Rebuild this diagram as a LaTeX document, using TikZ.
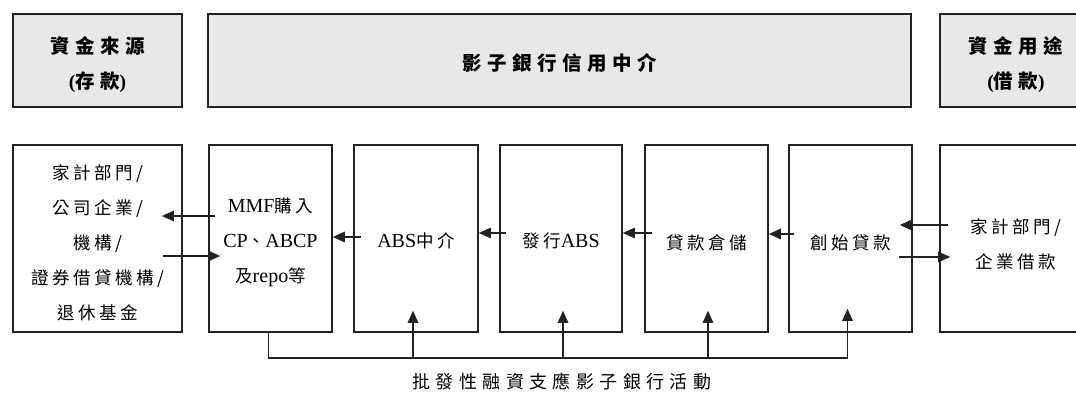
\documentclass[tikz,border=0pt]{standalone}
\usepackage{fontspec}
\setmainfont{Liberation Serif}
\newfontfamily\cjk[Scale=0.875,LetterSpace=20]{Noto Sans CJK TC}
\newfontfamily\cjkw[Scale=1.0,LetterSpace=28]{Noto Sans CJK TC}
\newfontfamily\cjkl[Scale=1.0,LetterSpace=30]{Noto Sans CJK TC}
\newcommand\zh[1]{{\cjk #1}}
\newcommand\zw[1]{{\cjkw #1}}
\newcommand\zl[1]{{\cjkl #1}}
\usetikzlibrary{arrows.meta,calc}
\definecolor{hdrfill}{HTML}{E8E8E8}
\definecolor{ink}{HTML}{222222}
\begin{document}
\begin{tikzpicture}[x=1pt,y=-1pt,
  hdr/.style={draw=ink,line width=2.4pt,fill=hdrfill,inner sep=0pt,minimum height=93pt},
  hdrtxt/.style={inner sep=0pt,align=center,font=\fontsize{19.5}{35}\selectfont\bfseries},
  stage/.style={draw=ink,line width=1.6pt,fill=white,inner sep=0pt,minimum height=187pt},
  stagetxt/.style={inner sep=0pt,align=center,font=\fontsize{20}{35}\selectfont},
  arr/.style={draw=ink,line width=1.4pt,-{Triangle[length=12pt,width=10.5pt]}}]
\useasboundingbox (0,0) rectangle (1076,396);
% header boxes
\node[hdr,minimum width=169pt] (src) at (97.5,60.5) {};
\node[hdr,minimum width=703pt] (mid) at (559.5,60.5) {};
\node[hdr,minimum width=152pt] (use) at (1016,60.5) {};
\node[hdrtxt] (srct) at ([yshift=-4.5pt]src.center) {\zw{資金來源}\\(\zw{存款})};
\node[hdrtxt] (midt) at ([yshift=-2.5pt]mid.center) {\zw{影子銀行信用中介}};
\node[hdrtxt] (uset) at ([yshift=-4.5pt]use.center) {\zw{資金用途}\\(\zw{借款})};
% stage boxes
\node[stage,minimum width=169pt] (A) at (97.5,238.5) {};
\node[stage,minimum width=123pt] (B) at (270.5,238.5) {};
\node[stage,minimum width=124pt] (C) at (416,238.5) {};
\node[stage,minimum width=122pt] (D) at (561,238.5) {};
\node[stage,minimum width=123pt] (E) at (706.5,238.5) {};
\node[stage,minimum width=123pt] (F) at (850.5,238.5) {};
\node[stage,minimum width=152pt] (G) at (1016,238.5) {};
\node[stagetxt] (At) at ([yshift=-4pt]A.center) {\zh{家計部門/}\\\zh{公司企業/}\\\zh{機構/}\\\zh{證券借貸機構/}\\\zh{退休基金}};
\node[stagetxt] (Bt) at ([yshift=-3.5pt]B.center) {MMF\zh{購入}\\CP\zh{、}ABCP\\\zh{及}repo\zh{等}};
\node[stagetxt] (Ct) at ([yshift=-2pt]C.center) {ABS\zh{中介}};
\node[stagetxt] (Dt) at ([yshift=-2pt]D.center) {\zh{發行}ABS};
\node[stagetxt] (Et) at ([yshift=-4pt]E.center) {\zh{貸款倉儲}};
\node[stagetxt] (Ft) at ([yshift=-4pt]F.center) {\zh{創始貸款}};
\node[stagetxt] (Gt) at ([yshift=-6pt]G.center) {\zh{家計部門/}\\\zh{企業借款}};
% flows
\draw[arr] ([xshift=7pt,yshift=22.5pt]B.west) -- ([xshift=-21pt,yshift=22.5pt]A.east);
\draw[arr] ([xshift=-20pt,yshift=-17.5pt]A.east) -- ([xshift=12pt,yshift=-17.5pt]B.west);
\draw[arr] ([xshift=8pt,yshift=1.5pt]C.west) -- ([yshift=1.5pt]B.east);
\draw[arr] ([xshift=7pt,yshift=5.5pt]D.west) -- ([yshift=5.5pt]C.east);
\draw[arr] ([xshift=8pt,yshift=5.5pt]E.west) -- ([yshift=5.5pt]D.east);
\draw[arr] ([xshift=6pt,yshift=4.5pt]F.west) -- ([yshift=4.5pt]E.east);
\draw[arr] ([xshift=9pt,yshift=13.5pt]G.west) -- ([xshift=-13pt,yshift=13.5pt]F.east);
\draw[arr] ([xshift=-14pt,yshift=-18.5pt]F.east) -- ([xshift=11pt,yshift=-18.5pt]G.west);
% wholesale funding bracket
\coordinate (bar) at (0,358);
\draw[arr] ([xshift=-2pt]B.south) -- ([xshift=-2pt]B.south |- bar) -- ([xshift=-3pt]F.south |- bar) -- ([xshift=-3pt,yshift=24pt]F.south);
\draw[arr] ([xshift=-3pt]C.south |- bar) -- ([xshift=-3pt,yshift=22pt]C.south);
\draw[arr] ([xshift=2pt]D.south |- bar) -- ([xshift=2pt,yshift=22pt]D.south);
\draw[arr] ([xshift=1.5pt]E.south |- bar) -- ([xshift=1.5pt,yshift=22pt]E.south);
\node[font=\fontsize{18}{20}\selectfont] (lbl) at (562,382) {\zl{批發性融資支應影子銀行活動}};
\end{tikzpicture}
\end{document}
